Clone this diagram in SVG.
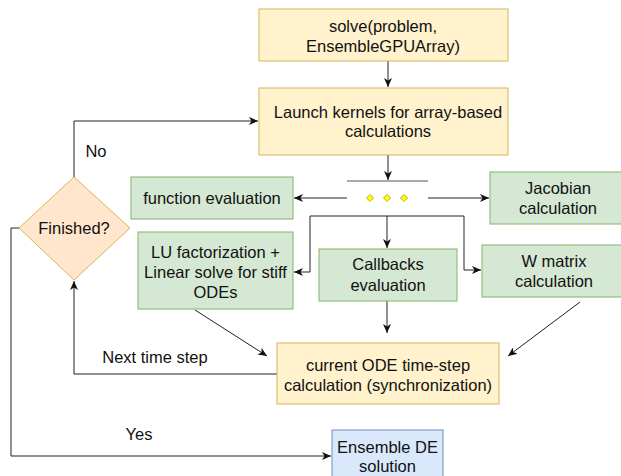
<svg xmlns="http://www.w3.org/2000/svg" width="621" height="476" viewBox="0 0 621 476">
<style>
text{font-family:"Liberation Sans",Arial,sans-serif;font-size:16.5px;fill:#111;text-anchor:middle;dominant-baseline:central}
.y{fill:#fff2cc;stroke:#d6b656;stroke-width:1}
.g{fill:#d5e8d4;stroke:#82b366;stroke-width:1}
.b{fill:#dae8fc;stroke:#6c8ebf;stroke-width:1}
.o{fill:#ffe6cc;stroke:#d6b656;stroke-width:1}
.c{fill:none;stroke:#222;stroke-width:1}
.a{marker-end:url(#ah)}
</style>
<defs>
<marker id="ah" markerWidth="10" markerHeight="8" refX="9" refY="4" orient="auto" markerUnits="userSpaceOnUse">
<path d="M0,0 L9,4 L0,8 L2.5,4 Z" fill="#111"/>
</marker>
</defs>
<g id="connectors">
<path class="c a" d="M388,61 V87"/>
<path class="c a" d="M388,155 V180"/>
<path d="M347,181 H428" stroke="#555" stroke-width="1" fill="none"/>
<path class="c a" d="M347,198 H294"/>
<path class="c a" d="M428,198 H489"/>
<path class="c" d="M310,216 H464"/>
<path class="c a" d="M310,216 V272 H294"/>
<path class="c a" d="M387,216 V248"/>
<path class="c a" d="M464,216 V270 H481"/>
<path class="c a" d="M387,301 V333"/>
<path class="c a" d="M195,310 L267,356"/>
<path class="c a" d="M580,302 L508,356"/>
<path class="c a" d="M277,374 H74 V281"/>
<path class="c a" d="M74,177 V121 H258"/>
<path class="c a" d="M19,228 H11 V456 H331"/>
<text x="96" y="151">No</text>
<text x="155" y="357">Next time step</text>
<text x="139" y="434">Yes</text>
</g>
<g id="n-solve">
<rect class="y" x="259" y="9" width="249" height="52"/>
<text x="383" y="26">solve(problem,</text>
<text x="383" y="46">EnsembleGPUArray)</text>
</g>
<g id="n-launch">
<rect class="y" x="259" y="88" width="249" height="67"/>
<text x="388" y="112">Launch kernels for array-based</text>
<text x="388" y="131">calculations</text>
</g>
<g id="n-fork">
<path d="M370,194.5 L373.5,198 L370,201.5 L366.5,198 Z" fill="#ffff00" stroke="#b09a00" stroke-width="0.8"/>
<path d="M387,194.5 L390.5,198 L387,201.5 L383.5,198 Z" fill="#ffff00" stroke="#b09a00" stroke-width="0.8"/>
<path d="M404,194.5 L407.5,198 L404,201.5 L400.5,198 Z" fill="#ffff00" stroke="#b09a00" stroke-width="0.8"/>
</g>
<g id="n-function">
<rect class="g" x="131" y="177" width="162" height="42"/>
<text x="212" y="198">function evaluation</text>
</g>
<g id="n-jacobian">
<rect class="g" x="490" y="172" width="136" height="52"/>
<text x="558" y="188">Jacobian</text>
<text x="558" y="208">calculation</text>
</g>
<g id="n-lu">
<rect class="g" x="138" y="232" width="155" height="77"/>
<text x="215.5" y="252">LU factorization +</text>
<text x="215.5" y="272">Linear solve for stiff</text>
<text x="215.5" y="292">ODEs</text>
</g>
<g id="n-callbacks">
<rect class="g" x="319" y="249" width="138" height="52"/>
<text x="388" y="264">Callbacks</text>
<text x="388" y="285">evaluation</text>
</g>
<g id="n-wmatrix">
<rect class="g" x="482" y="245" width="144" height="52"/>
<text x="554" y="261">W matrix</text>
<text x="554" y="281">calculation</text>
</g>
<g id="n-finished">
<path class="o" d="M74,177 L130,228 L74,280 L19,228 Z"/>
<text x="74" y="228">Finished?</text>
</g>
<g id="n-current">
<rect class="y" x="277" y="343" width="222" height="61"/>
<text x="388" y="365">current ODE time-step</text>
<text x="388" y="385">calculation (synchronization)</text>
</g>
<g id="n-ensemble">
<rect class="b" x="332" y="430" width="111" height="54"/>
<text x="387.5" y="447">Ensemble DE</text>
<text x="387.5" y="466">solution</text>
</g>
</svg>
